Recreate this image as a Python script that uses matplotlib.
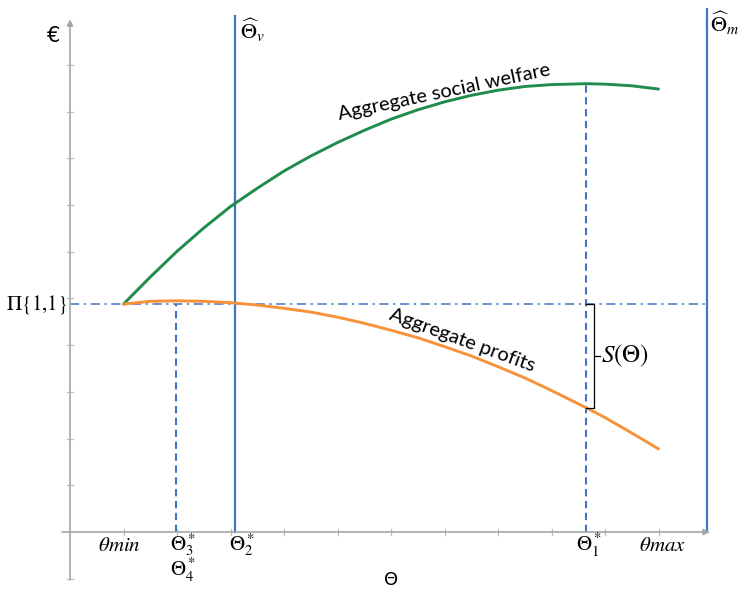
import numpy as np
import matplotlib.pyplot as plt

plt.rcParams["mathtext.fontset"] = "stix"

# theta grid (axis units = tick spacing) and curve values
theta = [1.0, 1.5, 2.0, 2.5, 3.0, 3.5, 4.0, 4.5, 5.0, 5.5, 6.0, 6.5, 7.0,
         7.5, 8.0, 8.5, 9.0, 9.65, 10.0, 10.5, 11.0]
welfare = [4.88, 5.46, 6.01, 6.51, 6.97, 7.36, 7.73, 8.05, 8.34, 8.60, 8.84,
           9.04, 9.21, 9.35, 9.46, 9.54, 9.58, 9.60, 9.59, 9.555, 9.485]
profits = [4.88, 4.94, 4.95, 4.94, 4.91, 4.86, 4.79, 4.71, 4.60, 4.47, 4.32,
           4.16, 3.97, 3.77, 3.54, 3.30, 3.03, 2.66, 2.45, 2.12, 1.78]

pi_11 = 4.88
theta_min = 1.0
theta_max = 11.0
theta_3 = 1.98
theta_2 = 3.08
theta_1 = 9.65
theta_hat_m = 11.9
x_ticks = list(range(1, 12))
y_ticks = [-1] + list(range(1, 11))

BLUE = "#4472c4"
GREEN = "#1f8b4c"
ORANGE = "#f7923a"
AXIS_GRAY = "#a6a6a6"

fig = plt.figure(figsize=(7.4, 5.99), dpi=100)
ax = fig.add_axes([0, 0, 1, 1])
ax.set_xlim(-70 / 53.5, 670 / 53.5)
ax.set_ylim(-67 / 46.7, 532 / 46.7)
ax.axis("off")

# axes with arrows
ax.annotate("", xy=(11.96, 0), xytext=(-0.15, 0),
            arrowprops=dict(arrowstyle="-|>", color=AXIS_GRAY, lw=1.2,
                            mutation_scale=9, shrinkA=0, shrinkB=0))
ax.annotate("", xy=(0, 10.98), xytext=(0, -1.02),
            arrowprops=dict(arrowstyle="-|>", color=AXIS_GRAY, lw=1.2,
                            mutation_scale=9, shrinkA=0, shrinkB=0))
for xt in x_ticks:
    ax.plot([xt, xt], [-0.07, 0.07], color="#bfbfbf", lw=0.9)
for yt in y_ticks:
    ax.plot([-0.06, 0.06], [yt, yt], color="#bfbfbf", lw=0.9)

# reference lines
ax.plot([0, theta_hat_m], [pi_11, pi_11], color=BLUE, lw=1.1,
        dashes=(6, 3, 1.5, 3))
ax.plot([theta_2, theta_2], [0, 11.05], color=BLUE, lw=1.6)
ax.plot([theta_hat_m, theta_hat_m], [0, 11.2], color=BLUE, lw=1.6)
ax.plot([theta_3, theta_3], [0, pi_11], color=BLUE, lw=1.5, dashes=(3.5, 2.2))
ax.plot([theta_1, theta_1], [0, max(welfare)], color=BLUE, lw=1.5,
        dashes=(3.5, 2.2))

# curves
ax.plot(theta, welfare, color=GREEN, lw=2.1, solid_capstyle="round",
        solid_joinstyle="round")
ax.plot(theta, profits, color=ORANGE, lw=2.1, solid_capstyle="round",
        solid_joinstyle="round")

# brace for S(Theta)
p1 = profits[theta.index(theta_1)]
bx = theta_1 + 0.15
ax.plot([theta_1, bx, bx, theta_1], [pi_11, pi_11, p1, p1], color="black", lw=0.9)
ax.plot([bx, bx + 0.1], [(pi_11 + p1) / 2] * 2, color="black", lw=0.9)
ax.text(bx + 0.12, (pi_11 + p1) / 2, r"$S(\Theta)$", fontsize=18,
        ha="left", va="center")

# curve labels
ax.text(6.99, 9.42, "Aggregate social welfare", fontsize=14.5, family="Lato",
        rotation=12, ha="center", va="center", rotation_mode="anchor")
ax.text(7.33, 4.1, "Aggregate profits", fontsize=14.5, family="Lato",
        rotation=-20, ha="center", va="center", rotation_mode="anchor")

# axis texts
ax.text(-0.3, 10.62, "€", fontsize=15, family="DejaVu Sans", ha="center",
        va="center")
ax.text(6.0, -1.03, "Θ", fontsize=13, family="DejaVu Sans", ha="center",
        va="center")
ax.text(-0.05, pi_11, r"$\Pi\{1{,}1\}$", fontsize=15, ha="right",
        va="center")
ax.text(theta_2 + 0.1, 10.75, r"$\widehat{\Theta}_v$", fontsize=16,
        ha="left", va="center")
ax.text(theta_hat_m + 0.07, 10.9, r"$\widehat{\Theta}_m$", fontsize=16,
        ha="left", va="center")

# x positions labels
lab_y = -0.28
ax.text(theta_min - 0.07, lab_y, r"$\theta min$", fontsize=15, ha="center",
        va="center")
ax.text(theta_3 + 0.13, lab_y, r"$\Theta_3^*$", fontsize=15, ha="center",
        va="center")
ax.text(theta_3 + 0.13, lab_y - 0.55, r"$\Theta_4^*$", fontsize=15,
        ha="center", va="center")
ax.text(theta_2 + 0.13, lab_y, r"$\Theta_2^*$", fontsize=15, ha="center",
        va="center")
ax.text(theta_1 + 0.04, lab_y, r"$\Theta_1^*$", fontsize=15, ha="center",
        va="center")
ax.text(theta_max + 0.07, lab_y, r"$\theta max$", fontsize=15, ha="center",
        va="center")

fig.savefig("out.png", dpi=100)
